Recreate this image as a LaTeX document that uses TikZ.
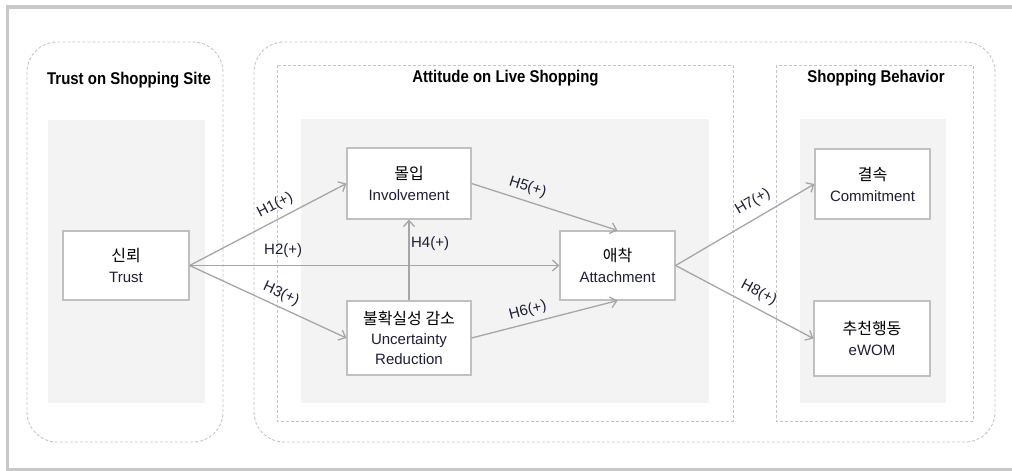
\documentclass[tikz,border=0pt]{standalone}
\usepackage{fontspec}
\setmainfont{Liberation Sans}
\newfontfamily\titlefont{Liberation Sans}[FakeStretch=0.88]
\newfontfamily\kr{Noto Sans CJK KR}
\newcommand{\krt}[1]{{\kr\fontsize{16}{21}\selectfont\color{black}#1}}
\usetikzlibrary{arrows.meta}
\definecolor{framec}{HTML}{C8C8C8}
\definecolor{dashc}{HTML}{C4C4C4}
\definecolor{shadec}{HTML}{F3F3F3}
\definecolor{boxc}{HTML}{C0C0C0}
\definecolor{arrc}{HTML}{A6A6A6}
\definecolor{engc}{HTML}{1E1E38}
\tikzset{
  dashbox/.style={draw=dashc, line width=0.9pt, dash pattern=on 3pt off 2pt},
  shadebox/.style={fill=shadec, draw=none},
  var/.style={draw=boxc, line width=1.2pt, fill=white, align=center, inner sep=0pt,
    font=\fontsize{15}{21}\selectfont, text=engc},
  arr/.style={draw=arrc, line width=1.3pt, -{Straight Barb[length=6pt,width=11pt]}},
  hl/.style={font=\fontsize{15}{15}\selectfont, inner sep=0pt, text=engc},
  ttl/.style={font=\titlefont\bfseries\fontsize{17}{17}\selectfont, text=black, inner sep=0pt},
}
\begin{document}
\begin{tikzpicture}[x=1pt,y=-1pt]
\useasboundingbox (0,0) rectangle (1012,471);
% outer frame
\draw[framec, line width=3.5pt] (7.5,7) rectangle (1030,469.5);
% group frames
\draw[dashbox, rounded corners=30pt] (27,42) rectangle (223,442);
\draw[dashbox, rounded corners=30pt] (254,42) rectangle (995,442);
\draw[dashbox] (277,65) rectangle (733,421);
\draw[dashbox] (776,65) rectangle (973,421);
% shaded areas
\fill[shadebox] (48,120) rectangle (205,403);
\fill[shadebox] (301,119) rectangle (709,403);
\fill[shadebox] (800,119) rectangle (946,403);
% titles
\node[ttl] (t1) at (129,80) {Trust on Shopping Site};
\node[ttl] (t2) at (505.5,78) {Attitude on Live Shopping};
\node[ttl] (t3) at (876,78) {Shopping Behavior};
% variables
\node[var, minimum width=126pt, minimum height=69pt] (trust) at (126,265.5) {\krt{신뢰}\\Trust};
\node[var, minimum width=124pt, minimum height=71pt] (inv) at (409,183.5) {\krt{몰입}\\Involvement};
\node[var, minimum width=124pt, minimum height=74pt, font=\fontsize{15}{20}\selectfont] (unc) at (409,338) {\krt{불확실성 감소}\\Uncertainty\\Reduction};
\node[var, minimum width=115pt, minimum height=69pt] (att) at (617.5,265.5) {\krt{애착}\\Attachment};
\node[var, minimum width=115pt, minimum height=70pt] (com) at (872.5,184) {\krt{결속}\\Commitment};
\node[var, minimum width=116pt, minimum height=75pt] (ewom) at (872,338.5) {\krt{추천행동}\\eWOM};
% paths
\draw[arr] (trust.east) -- node[hl, sloped, pos=0.586, above=6pt] {H1(+)} (inv.west);
\draw[arr] (trust.east) -- node[hl, pos=0.253, above=7pt] {H2(+)} (att.west);
\draw[arr] (trust.east) -- node[hl, sloped, pos=0.55, above=5pt] {H3(+)} (unc.west);
\draw[arr] (unc.north) -- node[hl, pos=0.707, anchor=west, xshift=1.5pt] {H4(+)} (inv.south);
\draw[arr] (inv.east) -- node[hl, sloped, pos=0.356, above=6pt] {H5(+)} (att.north);
\draw[arr] (unc.east) -- node[hl, sloped, pos=0.407, above=5pt] {H6(+)} (att.south);
\draw[arr] (att.east) -- node[hl, sloped, pos=0.614, above=8pt] {H7(+)} (com.west);
\draw[arr] (att.east) -- node[hl, sloped, pos=0.554, above=7pt] {H8(+)} (ewom.west);
\end{tikzpicture}
\end{document}
